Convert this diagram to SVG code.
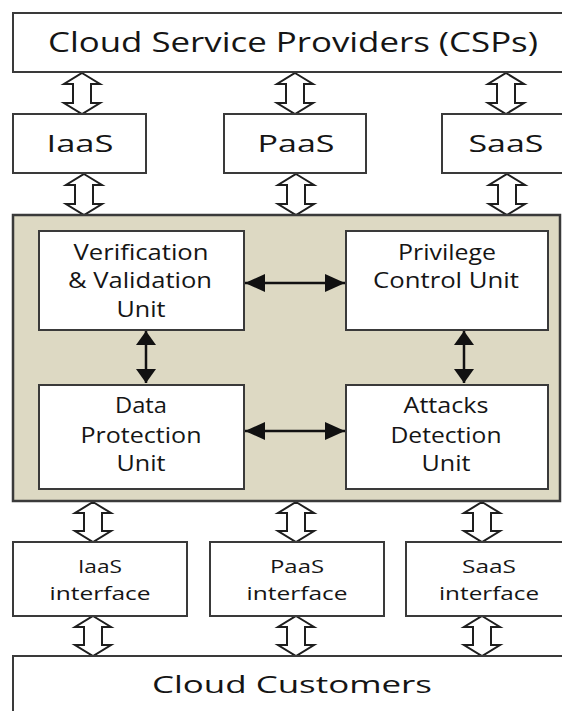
<svg xmlns="http://www.w3.org/2000/svg" width="562" height="711" viewBox="0 0 562 711">
<style>
.box{fill:#fff;stroke:#3a3a3a;stroke-width:2}
.panel{fill:#ddd9c3;stroke:#3a3a3a;stroke-width:2.5}
.hollow{fill:#fff;stroke:#1e1e1e;stroke-width:2;stroke-linejoin:miter}
.solid{stroke:#111;stroke-width:2.5;fill:none}
text{font-family:"Open Sans","Liberation Sans",sans-serif;fill:#151515;text-anchor:middle}
.t1{font-size:27px}
.t2{font-size:24px}
.t3{font-size:21px}
.t4{font-size:18px}
</style>
<defs>
<marker id="ah" markerUnits="userSpaceOnUse" markerWidth="20" markerHeight="18" refX="20" refY="9" orient="auto-start-reverse">
<path d="M0,0 L20,9 L0,18 Z" fill="#111"/>
</marker>
<marker id="av" markerUnits="userSpaceOnUse" markerWidth="14" markerHeight="20" refX="14" refY="10" orient="auto-start-reverse">
<path d="M0,0 L14,10 L0,20 Z" fill="#111"/>
</marker>
</defs>

<g id="connectors">
<!-- hollow double arrows row 1 -->
<path class="hollow" d="M82,73 L100,84 L91,84 L91,103 L100,103 L82,114 L64,103 L73,103 L73,84 L64,84 Z"/>
<path class="hollow" d="M295,73 L313,84 L304,84 L304,103 L313,103 L295,114 L277,103 L286,103 L286,84 L277,84 Z"/>
<path class="hollow" d="M506,73 L524,84 L515,84 L515,103 L524,103 L506,114 L488,103 L497,103 L497,84 L488,84 Z"/>
<!-- row 2 -->
<path class="hollow" d="M84,174 L102,185 L93,185 L93,204 L102,204 L84,215 L66,204 L75,204 L75,185 L66,185 Z"/>
<path class="hollow" d="M296,174 L314,185 L305,185 L305,204 L314,204 L296,215 L278,204 L287,204 L287,185 L278,185 Z"/>
<path class="hollow" d="M507,174 L525,185 L516,185 L516,204 L525,204 L507,215 L489,204 L498,204 L498,185 L489,185 Z"/>
<!-- row 3 -->
<path class="hollow" d="M93,502 L111,513 L102,513 L102,531 L111,531 L93,542 L75,531 L84,531 L84,513 L75,513 Z"/>
<path class="hollow" d="M296,502 L314,513 L305,513 L305,531 L314,531 L296,542 L278,531 L287,531 L287,513 L278,513 Z"/>
<path class="hollow" d="M482,502 L500,513 L491,513 L491,531 L500,531 L482,542 L464,531 L473,531 L473,513 L464,513 Z"/>
<!-- row 4 -->
<path class="hollow" d="M93,616 L111,627 L102,627 L102,645 L111,645 L93,656 L75,645 L84,645 L84,627 L75,627 Z"/>
<path class="hollow" d="M296,616 L314,627 L305,627 L305,645 L314,645 L296,656 L278,645 L287,645 L287,627 L278,627 Z"/>
<path class="hollow" d="M482,616 L500,627 L491,627 L491,645 L500,645 L482,656 L464,645 L473,645 L473,627 L464,627 Z"/>
</g>

<g id="csp"><rect class="box" x="13" y="13" width="560" height="59"/>
<text class="t1" x="293" y="52" textLength="490" lengthAdjust="spacingAndGlyphs">Cloud Service Providers (CSPs)</text></g>

<g id="iaas"><rect class="box" x="13" y="114" width="133" height="59"/>
<text class="t2" x="80" y="152" textLength="67" lengthAdjust="spacingAndGlyphs">IaaS</text></g>
<g id="paas"><rect class="box" x="224" y="114" width="142" height="59"/>
<text class="t2" x="296" y="152" textLength="77" lengthAdjust="spacingAndGlyphs">PaaS</text></g>
<g id="saas"><rect class="box" x="442" y="114" width="130" height="59"/>
<text class="t2" x="506" y="152" textLength="75" lengthAdjust="spacingAndGlyphs">SaaS</text></g>

<g id="security-panel"><rect class="panel" x="13" y="215" width="547" height="286"/></g>

<g id="connectors-inner">
<line class="solid" x1="245" y1="283" x2="345" y2="283" marker-start="url(#ah)" marker-end="url(#ah)"/>
<line class="solid" x1="245" y1="431" x2="345" y2="431" marker-start="url(#ah)" marker-end="url(#ah)"/>
<line class="solid" x1="146" y1="331" x2="146" y2="383" marker-start="url(#av)" marker-end="url(#av)"/>
<line class="solid" x1="464" y1="331" x2="464" y2="383" marker-start="url(#av)" marker-end="url(#av)"/>
</g>

<g id="verification"><rect class="box" x="39" y="231" width="205" height="99"/>
<text class="t3" x="141" y="260" textLength="135" lengthAdjust="spacingAndGlyphs">Verification</text>
<text class="t3" x="140" y="288" textLength="144" lengthAdjust="spacingAndGlyphs">&amp; Validation</text>
<text class="t3" x="141" y="317" textLength="49" lengthAdjust="spacingAndGlyphs">Unit</text></g>

<g id="privilege"><rect class="box" x="346" y="231" width="202" height="99"/>
<text class="t3" x="447" y="260" textLength="98" lengthAdjust="spacingAndGlyphs">Privilege</text>
<text class="t3" x="446" y="288" textLength="146" lengthAdjust="spacingAndGlyphs">Control Unit</text></g>

<g id="data-protection"><rect class="box" x="39" y="385" width="205" height="104"/>
<text class="t3" x="141" y="413" textLength="52" lengthAdjust="spacingAndGlyphs">Data</text>
<text class="t3" x="141" y="443" textLength="121" lengthAdjust="spacingAndGlyphs">Protection</text>
<text class="t3" x="141" y="471" textLength="49" lengthAdjust="spacingAndGlyphs">Unit</text></g>

<g id="attacks-detection"><rect class="box" x="346" y="385" width="202" height="104"/>
<text class="t3" x="446" y="413" textLength="85" lengthAdjust="spacingAndGlyphs">Attacks</text>
<text class="t3" x="446" y="443" textLength="111" lengthAdjust="spacingAndGlyphs">Detection</text>
<text class="t3" x="446" y="471" textLength="49" lengthAdjust="spacingAndGlyphs">Unit</text></g>

<g id="iaas-interface"><rect class="box" x="13" y="542" width="174" height="74"/>
<text class="t4" x="100" y="573" textLength="44" lengthAdjust="spacingAndGlyphs">IaaS</text>
<text class="t4" x="100" y="600" textLength="101" lengthAdjust="spacingAndGlyphs">interface</text></g>
<g id="paas-interface"><rect class="box" x="210" y="542" width="174" height="74"/>
<text class="t4" x="297" y="573" textLength="54" lengthAdjust="spacingAndGlyphs">PaaS</text>
<text class="t4" x="297" y="600" textLength="101" lengthAdjust="spacingAndGlyphs">interface</text></g>
<g id="saas-interface"><rect class="box" x="406" y="542" width="170" height="74"/>
<text class="t4" x="489" y="573" textLength="54" lengthAdjust="spacingAndGlyphs">SaaS</text>
<text class="t4" x="489" y="600" textLength="100" lengthAdjust="spacingAndGlyphs">interface</text></g>

<g id="customers"><rect class="box" x="13" y="656" width="560" height="70"/>
<text class="t2" x="292" y="693" textLength="280" lengthAdjust="spacingAndGlyphs">Cloud Customers</text></g>
</svg>
